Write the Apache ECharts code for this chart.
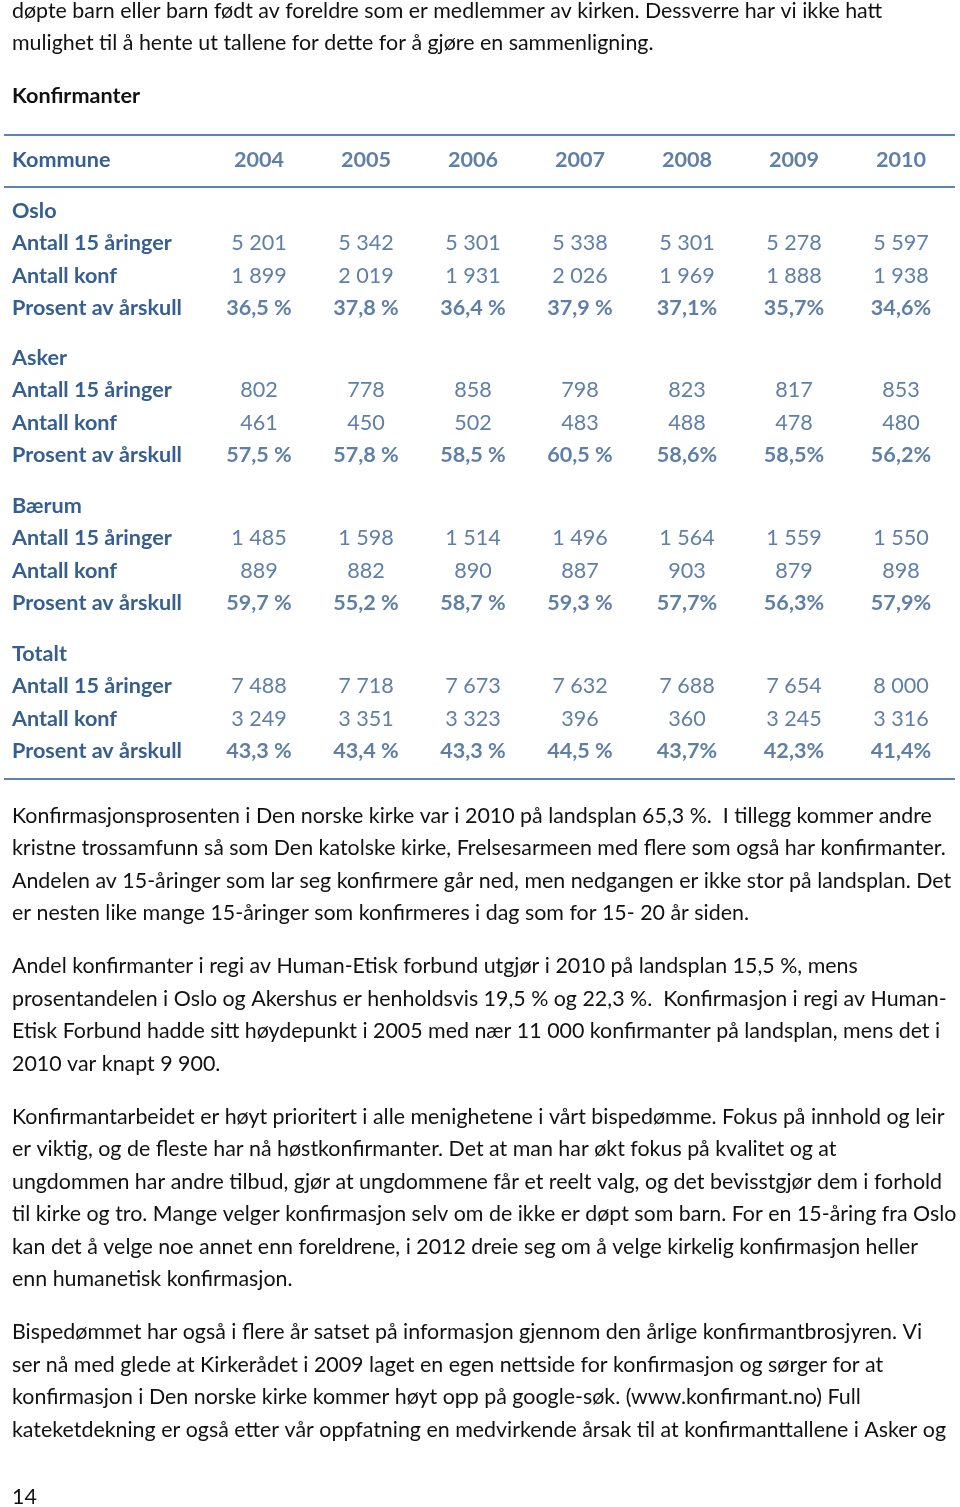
<!DOCTYPE html>
<html>
<head>
<meta charset="utf-8">
<script src="https://cdn.jsdelivr.net/npm/echarts@6/dist/echarts.min.js"></script>
<style>
html,body{margin:0;padding:0;background:#fff;}
#chart{width:960px;height:1507px;}
</style>
</head>
<body>
<div id="chart"></div>
<script>
// ---------- data ----------
const years = ['2004','2005','2006','2007','2008','2009','2010'];
const headerLabel = 'Kommune';
const groups = ['Oslo','Asker','Bærum','Totalt'];
const rowLabels = ['Antall 15 åringer','Antall konf','Prosent av årskull'];

const oslo15   = [5201,5342,5301,5338,5301,5278,5597];
const osloKonf = [1899,2019,1931,2026,1969,1888,1938];
const osloPct  = [36.5,37.8,36.4,37.9,37.1,35.7,34.6];

const asker15   = [802,778,858,798,823,817,853];
const askerKonf = [461,450,502,483,488,478,480];
const askerPct  = [57.5,57.8,58.5,60.5,58.6,58.5,56.2];

const baerum15   = [1485,1598,1514,1496,1564,1559,1550];
const baerumKonf = [889,882,890,887,903,879,898];
const baerumPct  = [59.7,55.2,58.7,59.3,57.7,56.3,57.9];

const total15   = [7488,7718,7673,7632,7688,7654,8000];
const totalKonf = [3249,3351,3323,396,360,3245,3316];
const totalPct  = [43.3,43.4,43.3,44.5,43.7,42.3,41.4];

// percent sign spacing as printed in the source table
const pctSuffix = [' %',' %',' %',' %','%','%','%'];

const textAbove = [
  'døpte barn eller barn født av foreldre som er medlemmer av kirken. Dessverre har vi ikke hatt',
  'mulighet til å hente ut tallene for dette for å gjøre en sammenligning.'
];
const tableTitle = 'Konfirmanter';
const textBelow = [
  ['Konfirmasjonsprosenten i Den norske kirke var i 2010 på landsplan 65,3 %.  I tillegg kommer andre',
   'kristne trossamfunn så som Den katolske kirke, Frelsesarmeen med flere som også har konfirmanter.',
   'Andelen av 15-åringer som lar seg konfirmere går ned, men nedgangen er ikke stor på landsplan. Det',
   'er nesten like mange 15-åringer som konfirmeres i dag som for 15- 20 år siden.'],
  ['Andel konfirmanter i regi av Human-Etisk forbund utgjør i 2010 på landsplan 15,5 %, mens',
   'prosentandelen i Oslo og Akershus er henholdsvis 19,5 % og 22,3 %.  Konfirmasjon i regi av Human-',
   'Etisk Forbund hadde sitt høydepunkt i 2005 med nær 11 000 konfirmanter på landsplan, mens det i',
   '2010 var knapt 9 900.'],
  ['Konfirmantarbeidet er høyt prioritert i alle menighetene i vårt bispedømme. Fokus på innhold og leir',
   'er viktig, og de fleste har nå høstkonfirmanter. Det at man har økt fokus på kvalitet og at',
   'ungdommen har andre tilbud, gjør at ungdommene får et reelt valg, og det bevisstgjør dem i forhold',
   'til kirke og tro. Mange velger konfirmasjon selv om de ikke er døpt som barn. For en 15-åring fra Oslo',
   'kan det å velge noe annet enn foreldrene, i 2012 dreie seg om å velge kirkelig konfirmasjon heller',
   'enn humanetisk konfirmasjon.'],
  ['Bispedømmet har også i flere år satset på informasjon gjennom den årlige konfirmantbrosjyren. Vi',
   'ser nå med glede at Kirkerådet i 2009 laget en egen nettside for konfirmasjon og sørger for at',
   'konfirmasjon i Den norske kirke kommer høyt opp på google-søk. (www.konfirmant.no) Full',
   'kateketdekning er også etter vår oppfatning en medvirkende årsak til at konfirmanttallene i Asker og']
];
const pageNumber = '14';

// ---------- styling / layout ----------
const FONT = 'Lato';
const BLUE = '#365F91';
const RULE = '#5A83B8';
const TXT = '#111111';
const bodySize = 21.4;
const tableSize = 21.6;

const gridLeft = 205.5, gridRight = 5.5, rowH = 32.5;
const headerTop = 143.75;
const groupTops = [194.75, 341.75, 489.75, 637.75];

function fmtInt(v){
  return String(v).replace(/\B(?=(\d{3})+(?!\d))/g, ' ');
}
function fmtPct(v, i){
  return v.toFixed(1).replace('.', ',') + pctSuffix[i];
}

const groupData = [
  [oslo15, osloKonf, osloPct],
  [asker15, askerKonf, askerPct],
  [baerum15, baerumKonf, baerumPct],
  [total15, totalKonf, totalPct]
];

const grids = [], xAxes = [], yAxes = [], series = [];

function addGrid(top, rows){
  const idx = grids.length;
  grids.push({left: gridLeft, right: gridRight, top: top, height: rows.length * rowH, containLabel: false});
  xAxes.push({type:'category', gridIndex: idx, data: years, boundaryGap: true,
    axisLine:{show:false}, axisTick:{show:false}, axisLabel:{show:false}, splitLine:{show:false}});
  yAxes.push({type:'category', gridIndex: idx, data: rows, inverse: true, boundaryGap: true,
    axisLine:{show:false}, axisTick:{show:false}, splitLine:{show:false},
    axisLabel:{show:true, align:'left', margin: gridLeft - 12, color: BLUE,
      fontFamily: FONT, fontSize: tableSize, fontWeight: 'bold'}});
  return idx;
}

const hiddenItem = {color: 'rgba(0,0,0,0)', borderWidth: 0};

// header row
const hIdx = addGrid(headerTop, [headerLabel]);
series.push({
  type:'scatter', xAxisIndex:hIdx, yAxisIndex:hIdx, symbolSize:1,
  itemStyle: hiddenItem, silent:true, emphasis:{disabled:true},
  data: years.map(y => ({value:[y, headerLabel], label:{formatter: y}})),
  label:{show:true, position:'inside', color: BLUE, fontFamily: FONT, fontSize: tableSize, fontWeight:'bold'}
});

groups.forEach((g, gi) => {
  const rows = [g].concat(rowLabels);
  const idx = addGrid(groupTops[gi], rows);
  const d = groupData[gi];
  const data = [];
  years.forEach((y, i) => {
    data.push({value:[y, rowLabels[0], d[0][i]], label:{formatter: fmtInt(d[0][i]), fontWeight:'normal'}});
    data.push({value:[y, rowLabels[1], d[1][i]], label:{formatter: fmtInt(d[1][i]), fontWeight:'normal'}});
    data.push({value:[y, rowLabels[2], d[2][i]], label:{formatter: fmtPct(d[2][i], i), fontWeight:'bold'}});
  });
  series.push({
    type:'scatter', xAxisIndex:idx, yAxisIndex:idx, symbolSize:1,
    itemStyle: hiddenItem, silent:true, emphasis:{disabled:true}, data: data,
    label:{show:true, position:'inside', color: BLUE, fontFamily: FONT, fontSize: tableSize}
  });
});

// ---------- page text & rules ----------
const graphic = [];
function textLine(str, y, weight, size){
  graphic.push({type:'text', x: 12, y: y, silent:true,
    style: {text: str, fill: TXT, fontFamily: FONT, fontSize: size || bodySize, fontWeight: weight || 'normal',
      verticalAlign: 'middle', align: 'left'}});
}
const aboveY = [11, 43];
textAbove.forEach((s, i) => textLine(s, aboveY[i]));
textLine(tableTitle, 96, 'bold', tableSize);

[135, 187, 779].forEach(y => {
  graphic.push({type:'line', silent:true, shape:{x1:4, y1:y, x2:955, y2:y},
    style:{stroke: RULE, lineWidth: 2}});
});

const paraStarts = [816, 966.5, 1117, 1332.5];
const lineStep = 32.45;
textBelow.forEach((para, pi) => {
  para.forEach((s, li) => textLine(s, paraStarts[pi] + li * lineStep));
});
textLine(pageNumber, 1497);

const chart = echarts.init(document.getElementById('chart'), null, {renderer:'canvas'});
chart.setOption({
  animation: false,
  backgroundColor: '#ffffff',
  grid: grids, xAxis: xAxes, yAxis: yAxes, series: series,
  graphic: graphic
});
</script>
</body>
</html>
